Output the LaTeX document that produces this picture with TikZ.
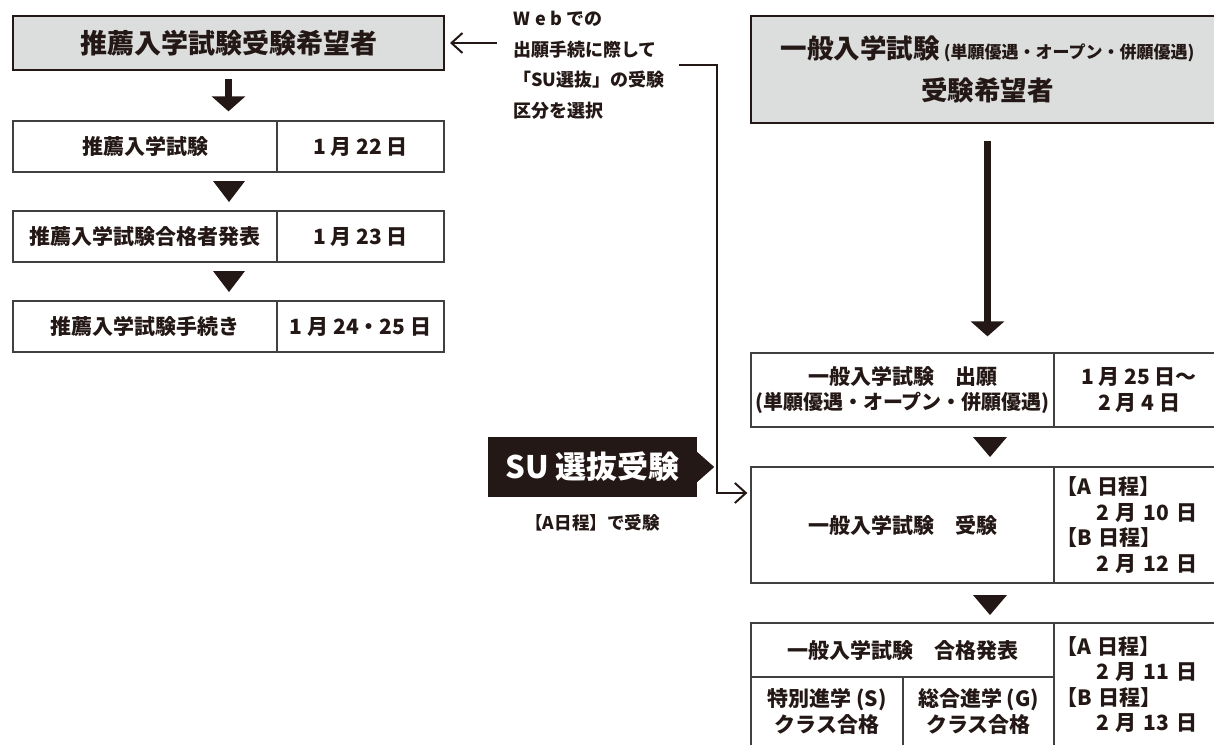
\documentclass[tikz,border=0pt]{standalone}
\usepackage{fontspec}
\setmainfont{Noto Sans CJK JP}
\usetikzlibrary{arrows.meta,positioning}
\definecolor{ink}{HTML}{231815}
\definecolor{panel}{HTML}{DCDDDD}
\definecolor{rule}{HTML}{404040}
\begin{document}
\begin{tikzpicture}[x=1pt,y=-1pt,
    every node/.style={text=ink,font=\bfseries},
    head/.style={draw=ink,line width=2pt,fill=panel,inner sep=0pt},
    cell/.style={draw=rule,line width=1.3pt,inner sep=0pt,align=center,
      font=\bfseries\fontsize{21}{25.5}\selectfont},
    big/.style={-{Triangle[width=33pt,length=15pt]},line width=6.5pt,draw=ink},
    thin/.style={-{Straight Barb[length=11pt,width=20pt]},line width=2pt,draw=ink}]

    \useasboundingbox (0,0) rectangle (1214,744);
    \clip (0,0) rectangle (1214,744);

    % left column
    \node[head,minimum width=431pt,minimum height=54pt,
      font=\bfseries\fontsize{27}{30}\selectfont] (tL) at (228.5,43) {推薦入学試験受験希望者};
    \foreach \txt/\day [count=\i] in {推薦入学試験/{1 月 22 日},
        推薦入学試験合格者発表/{1 月 23 日},推薦入学試験手続き/{1 月 24・25 日}} {
      \node[cell,minimum width=264pt,minimum height=51pt] (s\i) at (145,56.5+90*\i) {\txt};
      \node[cell,minimum width=167pt,minimum height=51pt] (d\i) at (360.5,56.5+90*\i) {\day};
    }
    \draw[big,shorten <=8pt,shorten >=9pt] (tL.south) -- (tL.south |- s1.north);
    \foreach \y in {181,271}
      \fill[ink] (213,\y) -- (245,\y) -- (229,\y+21) -- cycle;

    % web note
    \node[anchor=north west,inner sep=0pt,align=left,
      font=\bfseries\fontsize{18}{30.5}\selectfont] (web) at (513,11)
      {W\hspace{5pt}e\hspace{5pt}b での\\出願手続に際して\\「SU選抜」の受験\\区分を選択};
    \coordinate (wa) at (497,43);
    \draw[thin,shorten >=5pt] (wa) -- (tL.east);

    % right column
    \node[head,minimum width=473pt,minimum height=107pt,align=center,
      font=\bfseries\fontsize{26.5}{42}\selectfont] (tR) at (987.5,69.5)
      {一般入学試験\,{\fontsize{17}{20}\selectfont (単願優遇・オープン・併願優遇)}\\受験希望者};
    \node[cell,minimum width=303pt,minimum height=74pt] (r1) at (902.5,390)
      {一般入学試験　出願\\{\fontsize{20}{25.5}\selectfont (単願優遇・オープン・併願優遇)}};
    \node[cell,minimum width=170pt,minimum height=74pt] (q1) at (1139,390)
      {1 月 25 日〜\\2 月 4 日};
    \node[cell,minimum width=303pt,minimum height=116pt] (r2) at (902.5,525)
      {一般入学試験　受験};
    \node[cell,minimum width=170pt,minimum height=116pt,text width=166pt,align=left] (q2) at (1139,525)
      {【A 日程】\\\hspace*{40pt}2 月 10 日\\【B 日程】\\\hspace*{40pt}2 月 12 日};
    \node[cell,minimum width=303pt,minimum height=54pt] (r3) at (902.5,650)
      {一般入学試験　合格発表};
    \node[cell,minimum width=152pt,minimum height=69pt] (g1) at (827,711.5)
      {特別進学 (S)\\クラス合格};
    \node[cell,minimum width=151pt,minimum height=69pt] (g2) at (978.5,711.5)
      {総合進学 (G)\\クラス合格};
    \node[cell,minimum width=170pt,minimum height=123pt,text width=166pt,align=left] (q3) at (1139,684.5)
      {【A 日程】\\\hspace*{40pt}2 月 11 日\\【B 日程】\\\hspace*{40pt}2 月 13 日};
    \draw[big,shorten <=17pt,shorten >=16pt] (tR.south) -- (tR.south |- r1.north);
    \foreach \y in {437,595}
      \fill[ink] (973,\y) -- (1007,\y) -- (990,\y+20) -- cycle;

    % SU
    \node[fill=ink,minimum width=209pt,minimum height=60pt,text=white,
      font=\bfseries\fontsize{31}{31}\selectfont] (su) at (592.5,467) {SU 選抜受験};
    \fill[ink] ([yshift=15pt]su.east) -- ([xshift=17pt]su.east) -- ([yshift=-15pt]su.east) -- cycle;
    \node[below=17pt of su,inner sep=0pt,font=\bfseries\fontsize{17.5}{20}\selectfont] (sunote)
      {【A日程】で受験};
    \coordinate (c0) at (679,65);
    \coordinate (c1) at (717,493);
    \draw[thin,shorten >=3pt] (c0) -| (c1) -- (c1 -| r2.west);
  \end{tikzpicture}
\end{document}
